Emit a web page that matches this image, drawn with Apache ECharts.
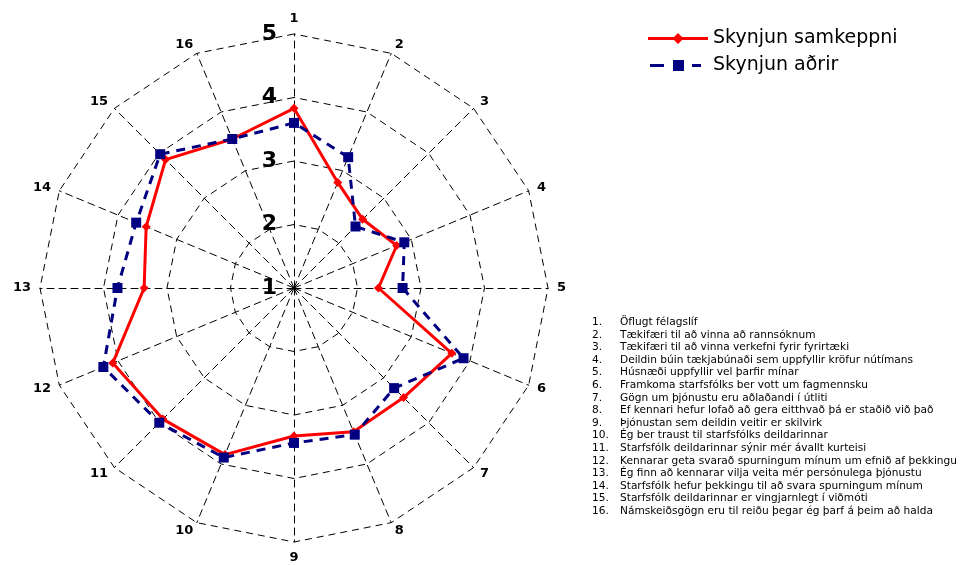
<!DOCTYPE html>
<html><head><meta charset="utf-8">
<script src="https://cdn.jsdelivr.net/npm/echarts@6/dist/echarts.min.js"></script>
<style>html,body{margin:0;padding:0;background:#fff}#c{width:960px;height:565px}</style>
</head><body><div id="c"></div>
<script>
const axisNames = ['1','2','3','4','5','6','7','8','9','10','11','12','13','14','15','16'];
const seriesNames = ['Skynjun samkeppni','Skynjun aðrir'];
const samkeppni = [3.83,2.80,2.53,2.75,2.33,3.69,3.44,3.45,3.33,3.84,3.92,4.09,3.36,3.52,3.86,3.54];
const adrir     = [3.60,3.23,2.37,2.88,2.71,3.89,3.23,3.50,3.44,3.89,4.00,4.25,3.78,3.69,3.98,3.54];
const scaleMin = 1, scaleMax = 5;
const notes = [
 'Öflugt félagslíf',
 'Tækifæri til að vinna að rannsóknum',
 'Tækifæri til að vinna verkefni fyrir fyrirtæki',
 'Deildin búin tækjabúnaði sem uppfyllir kröfur nútímans',
 'Húsnæði uppfyllir vel þarfir mínar',
 'Framkoma starfsfólks ber vott um fagmennsku',
 'Gögn um þjónustu eru aðlaðandi í útliti',
 'Ef kennari hefur lofað að gera eitthvað þá er staðið við það',
 'Þjónustan sem deildin veitir er skilvirk',
 'Ég ber traust til starfsfólks deildarinnar',
 'Starfsfólk deildarinnar sýnir mér ávallt kurteisi',
 'Kennarar geta svarað spurningum mínum um efnið af þekkingu',
 'Ég finn að kennarar vilja veita mér persónulega þjónustu',
 'Starfsfólk hefur þekkingu til að svara spurningum mínum',
 'Starfsfólk deildarinnar er vingjarnlegt í viðmóti',
 'Námskeiðsgögn eru til reiðu þegar ég þarf á þeim að halda'
];

// ECharts radar runs counter-clockwise; reorder so axes run clockwise from the top
const order = axisNames.map((_, i) => (axisNames.length - i) % axisNames.length);
const FONT = 'DejaVu Sans';
const indicator = order.map((k, i) => {
  const o = {name: axisNames[k], min: scaleMin, max: scaleMax};
  if (i === 0) { o.axisLabel = {show:true, color:'#000', fontSize:22, fontWeight:'bold', fontFamily:FONT, margin:17}; }
  return o;
});
const vSam = order.map(k => samkeppni[k]);
const vAdr = order.map(k => adrir[k]);

const chart = echarts.init(document.getElementById('c'));
chart.setOption({
  animation:false,
  backgroundColor:'#fff',
  legend:{
    orient:'vertical', left:643, top:24, itemGap:8, itemWidth:60, itemHeight:12,
    textStyle:{fontFamily:FONT, fontSize:19, color:'#000'},
    data:[
      {name:seriesNames[0], icon:'path://M0,4.6 L60,4.6 L60,7.4 L0,7.4 Z M30,0.5 L35.5,6 L30,11.5 L24.5,6 Z',
       itemStyle:{color:'#ff0000'}},
      {name:seriesNames[1], icon:'path://M2,4.5 L16,4.5 L16,7.5 L2,7.5 Z M25,0.5 L36,0.5 L36,11.5 L25,11.5 Z M44,4.5 L53,4.5 L53,7.5 L44,7.5 Z M0,6 L0,6 Z M60,6 L60,6 Z',
       itemStyle:{color:'#000080'}}
    ]
  },
  radar:{
    center:[294,288], radius:254, startAngle:90,
    shape:'polygon', splitNumber:4,
    indicator:indicator,
    axisName:{color:'#000', fontFamily:FONT, fontSize:13, fontWeight:'bold'},
    nameGap:9,
    axisLabel:{show:false},
    axisLine:{lineStyle:{color:'#000', type:[7,5], width:1}},
    splitLine:{lineStyle:{color:'#000', type:[7,5], width:1}},
    splitArea:{show:false},
    axisTick:{show:false}
  },
  series:[{
    type:'radar',
    data:[
      {name:seriesNames[0], value:vSam, symbol:'diamond', symbolSize:9,
       itemStyle:{color:'#ff0000'}, lineStyle:{color:'#ff0000', width:3}},
      {name:seriesNames[1], value:vAdr, symbol:'rect', symbolSize:10,
       itemStyle:{color:'#000080'}, lineStyle:{color:'#000080', width:3, type:[9,7]}}
    ],
    z:3
  }],
  graphic:[
    {type:'text', left:592, top:316, style:{text:notes.map((t,i)=>(i+1)+'.').join('\n'), font:'10.6px DejaVu Sans', lineHeight:12.6, fill:'#000'}},
    {type:'text', left:620, top:316, style:{text:notes.join('\n'), font:'10.6px DejaVu Sans', lineHeight:12.6, fill:'#000'}}
  ]
});
</script></body></html>
